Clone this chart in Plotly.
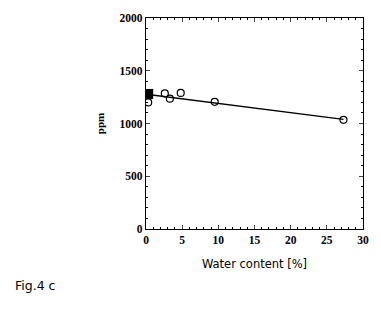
import plotly.graph_objects as go

water_open = [0.3, 2.6, 3.3, 4.8, 9.5, 27.3]
ppm_open = [1200, 1285, 1235, 1290, 1205, 1035]
water_filled = [0.3]
ppm_filled = [1280]
fit_x = [0.3, 27.3]
fit_y = [1275, 1040]

fig = go.Figure()
fig.add_trace(go.Scatter(x=fit_x, y=fit_y, mode="lines",
                         line=dict(color="black", width=1.3), showlegend=False))
fig.add_trace(go.Scatter(x=water_open, y=ppm_open, mode="markers",
                         marker=dict(symbol="circle-open", size=7, color="black",
                                     line=dict(width=1.2)), showlegend=False))
fig.add_trace(go.Scatter(x=water_filled, y=ppm_filled, mode="markers",
                         marker=dict(symbol="square", size=10, color="black"),
                         showlegend=False))

tickfont = dict(family="Liberation Serif", size=11.5, color="black", weight="bold")
fig.update_layout(
    width=381, height=311,
    margin=dict(l=146, r=18, t=14, b=82),
    paper_bgcolor="white", plot_bgcolor="white",
    xaxis=dict(range=[0, 30], tickvals=[0, 5, 10, 15, 20, 25, 30],
               ticks="inside", ticklen=4, mirror="ticks", showline=True,
               linecolor="black", linewidth=1.3, showgrid=False, zeroline=False,
               tickfont=tickfont,
               minor=dict(dtick=1, ticks="inside", ticklen=2, tickcolor="black"),
               title=dict(text="Water content [%]", standoff=14,
                          font=dict(family="DejaVu Sans", size=11.5, color="black"))),
    yaxis=dict(range=[0, 2000], tickvals=[0, 500, 1000, 1500, 2000],
               ticks="inside", ticklen=4, mirror="ticks", showline=True,
               linecolor="black", linewidth=1.3, showgrid=False, zeroline=False,
               tickfont=tickfont,
               minor=dict(dtick=100, ticks="inside", ticklen=2, tickcolor="black"),
               title=dict(text="<b>ppm</b>", standoff=12,
                          font=dict(family="Liberation Serif", size=11, color="black"))),
    annotations=[dict(text="Fig.4 c", xref="paper", yref="paper",
                      x=(13 - 146) / 217, y=-58 / 215, xanchor="left", yanchor="middle",
                      showarrow=False,
                      font=dict(family="DejaVu Sans", size=12.5, color="black"))],
)
fig.write_html("out.html")
